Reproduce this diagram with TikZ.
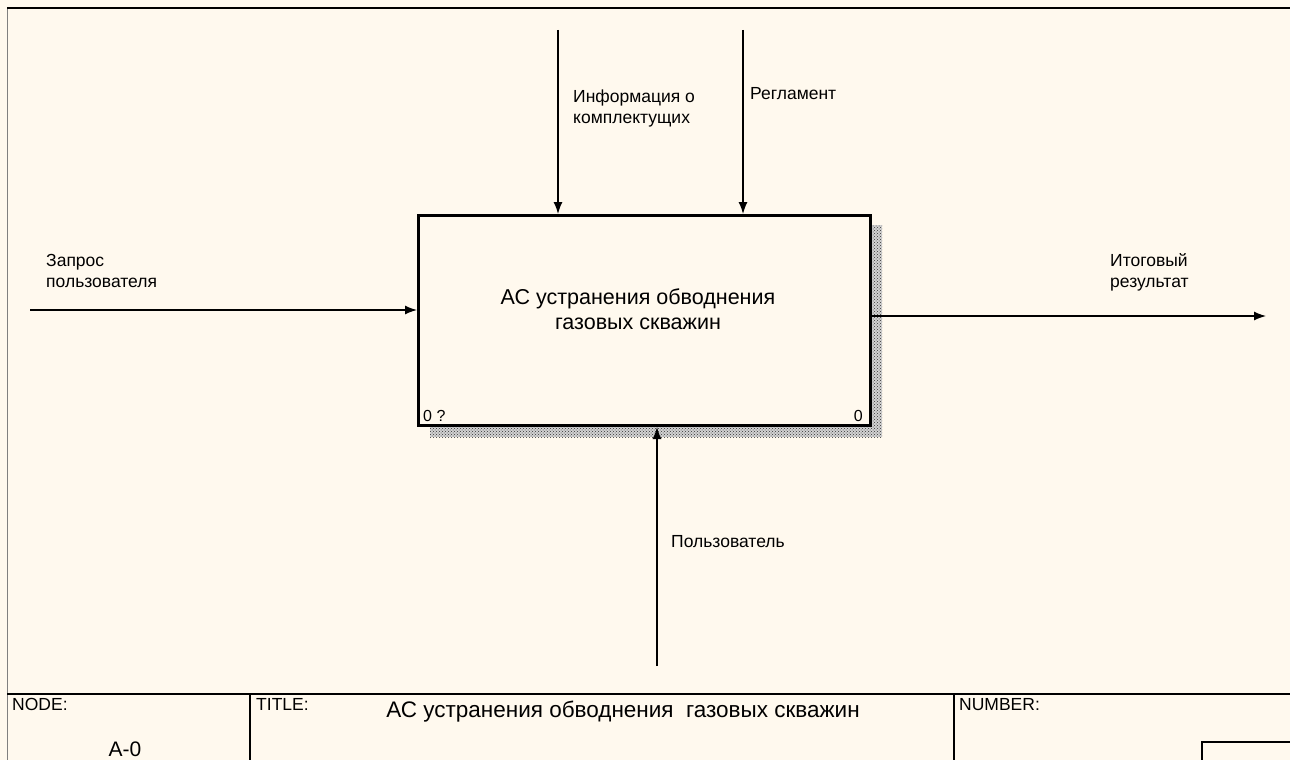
\documentclass[tikz,border=0pt]{standalone}
\usepackage{fontspec}
\setmainfont{Liberation Sans}
\usetikzlibrary{arrows.meta,patterns}
\definecolor{sheetbg}{RGB}{255,249,238}
\begin{document}
\begin{tikzpicture}[x=1pt,y=-1pt,
    arc/.style={line width=1.3pt,-{Latex[length=12pt,width=9pt]}},
    lbl/.style={inner sep=0pt,anchor=north west,align=left,font=\fontsize{17.5}{21}\selectfont},
    corner/.style={inner sep=0pt,font=\fontsize{16}{18}\selectfont},
    frm/.style={inner sep=0pt,anchor=north west,font=\fontsize{17.5}{19}\selectfont}]
  \fill[sheetbg] (0,0) rectangle (1290,760);
  \useasboundingbox (0,0) rectangle (1290,760);
  \draw[gray,line width=1.3pt] (7.5,8) -- (7.5,760);
  \draw[line width=1.5pt] (7,8) -- (1290,8);
  % shadow of the activity box
  \fill[gray!35] (869,225) rectangle (882,437);
  \fill[gray!35] (430,424) rectangle (869,437);
  \fill[pattern=crosshatch dots,pattern color=black!80] (869,225) rectangle (882,437);
  \fill[pattern=crosshatch dots,pattern color=black!80] (430,424) rectangle (869,437);
  \node[draw,line width=3pt,fill=sheetbg,anchor=north west,minimum width=452pt,minimum height=210pt,inner sep=0pt] (act) at (417,214) {};
  \node[align=center,font=\fontsize{21.5}{25}\selectfont] (acttxt) at (638,309) {АС устранения обводнения\\газовых скважин};
  \node[corner,anchor=south west] (nodeno) at (423,422) {0 ?};
  \node[corner,anchor=south east] (actno) at (863,422) {0};
  % arrow ends
  \coordinate (ctlA) at (558,30);
  \coordinate (ctlB) at (743,30);
  \coordinate (inp) at (30,310);
  \coordinate (outp) at (1266,316);
  \coordinate (mech) at (657,666);
  \draw[arc] (ctlA) -- (ctlA |- act.north);
  \draw[arc] (ctlB) -- (ctlB |- act.north);
  \draw[arc] (inp) -- (inp -| act.west);
  \draw[arc] (outp -| act.east) -- (outp);
  \draw[arc] (mech) -- (mech |- act.south);
  \node[lbl] (ctlAtxt) at (573,90) {Информация о\\комплектущих};
  \node[lbl] (ctlBtxt) at (750,87) {Регламент};
  \node[lbl] (inptxt) at (46,254) {Запрос\\пользователя};
  \node[lbl] (outptxt) at (1110,253) {Итоговый\\результат};
  \node[lbl] (mechtxt) at (671,535) {Пользователь};
  % frame at the bottom
  \draw[line width=1.2pt] (7,694) -- (1290,694);
  \draw[line width=1.2pt] (250,694) -- (250,760);
  \draw[line width=1.2pt] (954,694) -- (954,760);
  \draw[line width=1.2pt] (1290,742) -| (1202,760);
  \node[frm] (nodelbl) at (12,698) {NODE:};
  \node[frm] (titlelbl) at (256,698) {TITLE:};
  \node[frm] (numlbl) at (959,698) {NUMBER:};
  \node[inner sep=0pt,font=\fontsize{21}{23}\selectfont] (nodeval) at (125,749) {A-0};
  \node[inner sep=0pt,font=\fontsize{22.5}{24}\selectfont] (titleval) at (623,712) {АС устранения обводнения \ газовых скважин};
\end{tikzpicture}
\end{document}
